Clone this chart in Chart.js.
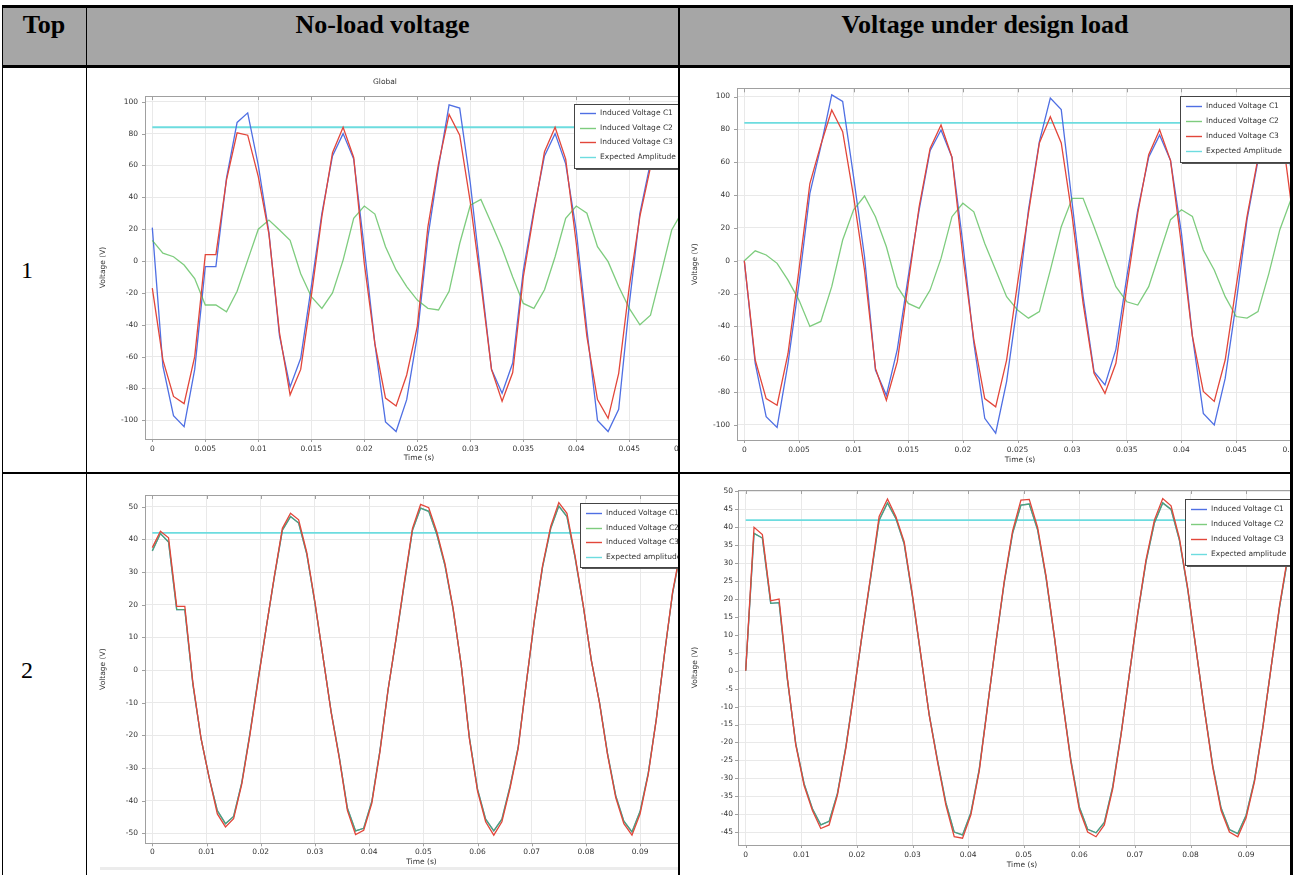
<!DOCTYPE html>
<html>
<head>
<meta charset="utf-8">
<script src="https://cdn.jsdelivr.net/npm/chart.js@4.4.0/dist/chart.umd.min.js"></script>
<style>
  html, body { margin: 0; padding: 0; background: #fff; }
  body { width: 1297px; height: 875px; position: relative; overflow: hidden; font-family: "DejaVu Sans", sans-serif; }
  .hdr { position: absolute; left: 2px; top: 7px; width: 1289px; height: 58px; background: #a6a6a6; }
  .line { position: absolute; background: #000; z-index: 5; }
  .htxt { position: absolute; top: 9px; font: bold 26px "Liberation Serif", serif; text-align: center; line-height: 32px; color: #000; }
  .rtxt { position: absolute; left: 21px; font: 24px "Liberation Serif", serif; line-height: 28px; color: #000; }
  .cell { position: absolute; overflow: hidden; background: #fff; }
  .cell canvas { position: absolute; }
  .small { position: absolute; font-size: 7.5px; line-height: 10px; color: #333; text-align: center; }
</style>
</head>
<body>
<div class="hdr"></div>
<div class="htxt" style="left:2px;width:84px;">Top</div>
<div class="htxt" style="left:86px;width:593px;">No-load voltage</div>
<div class="htxt" style="left:680px;width:610px;">Voltage under design load</div>
<div class="rtxt" style="top:256px;">1</div>
<div class="rtxt" style="top:656px;">2</div>

<div class="cell" style="left:87px;top:69px;width:591px;height:403px;">
  <canvas id="noLoad1" width="640" height="400" style="left:1px;top:1px;"></canvas>
</div>
<div class="small" style="left:335px;top:77px;width:100px;">Global</div>
<div class="cell" style="left:680px;top:69px;width:611px;height:403px;">
  <canvas id="load1" width="660" height="400" style="left:0;top:1px;"></canvas>
</div>
<div class="cell" style="left:87px;top:474px;width:591px;height:401px;">
  <canvas id="noLoad2" width="640" height="397" style="left:1px;top:4px;"></canvas>
  <div style="position:absolute;left:13px;top:393px;width:578px;height:3px;background:#ececec;"></div>
</div>
<div class="cell" style="left:680px;top:474px;width:611px;height:401px;">
  <canvas id="load2" width="656" height="397" style="left:0;top:4px;"></canvas>
</div>

<!-- table rules -->
<div class="line" style="left:2px;top:5px;width:1291px;height:3px;"></div>
<div class="line" style="left:2px;top:65px;width:1291px;height:3px;"></div>
<div class="line" style="left:2px;top:472px;width:1291px;height:2px;"></div>
<div class="line" style="left:2px;top:5px;width:1px;height:870px;"></div>
<div class="line" style="left:86px;top:5px;width:1px;height:870px;"></div>
<div class="line" style="left:678px;top:5px;width:2px;height:870px;"></div>
<div class="line" style="left:1290px;top:5px;width:3px;height:870px;"></div>

<script>
// time samples (s)
const timeTop1 = [0, 0.001, 0.002, 0.003, 0.004, 0.005, 0.006, 0.007, 0.008, 0.009,
  0.01, 0.011, 0.012, 0.013, 0.014, 0.015, 0.016, 0.017, 0.018, 0.019,
  0.02, 0.021, 0.022, 0.023, 0.024, 0.025, 0.026, 0.027, 0.028, 0.029,
  0.03, 0.031, 0.032, 0.033, 0.034, 0.035, 0.036, 0.037, 0.038, 0.039,
  0.04, 0.041, 0.042, 0.043, 0.044, 0.045, 0.046, 0.047, 0.048, 0.049, 0.05];
const timeTop2 = [0, 0.0015, 0.003, 0.0045, 0.006, 0.0075, 0.009, 0.0105, 0.012, 0.0135,
  0.015, 0.0165, 0.018, 0.0195, 0.021, 0.0225, 0.024, 0.0255, 0.027, 0.0285,
  0.03, 0.0315, 0.033, 0.0345, 0.036, 0.0375, 0.039, 0.0405, 0.042, 0.0435,
  0.045, 0.0465, 0.048, 0.0495, 0.051, 0.0525, 0.054, 0.0555, 0.057, 0.0585,
  0.06, 0.0615, 0.063, 0.0645, 0.066, 0.0675, 0.069, 0.0705, 0.072, 0.0735,
  0.075, 0.0765, 0.078, 0.0795, 0.081, 0.0825, 0.084, 0.0855, 0.087, 0.0885,
  0.09, 0.0915, 0.093, 0.0945, 0.096, 0.0975];

// Top 1, no-load (V)
const noLoad1C1 = [21, -66, -97, -104, -68, -3.5, -3.5, 52, 87, 93, 60, 18, -47, -79, -61, -16, 30, 66, 80, 64,
  8, -52, -101, -107, -87, -47, 15, 59, 98, 96, 49, -10, -68, -83, -64, -6, 32, 66, 80, 61,
  19, -43, -100, -107, -93, -27, 30, 62, 96, 92, 55];
const noLoad1C2 = [13, 5, 2.7, -2.5, -11, -27.6, -27.6, -31.8, -19, 0.6, 20, 25.7, 19.5, 13, -8, -22.4, -29.7, -20, 0.6, 26.8,
  34.5, 29.5, 9, -5.6, -16, -24.5, -29.7, -30.7, -19, 11, 35, 38.7, 23.6, 8, -10, -26.6, -29.7, -18, 2.7, 26.8,
  34.5, 30, 9, -0.4, -16, -29.7, -40, -34, -7.7, 19.5, 31];
const noLoad1C3 = [-17, -62, -85, -89.5, -60, 4, 4, 51, 80.5, 79, 53, 17, -45, -84, -68, -22, 28, 68, 84, 65,
  -1.5, -52, -86, -91, -71.5, -41, 21.5, 61, 92, 79, 37, -14, -68, -88, -70, -10, 30, 68.6, 84, 64,
  11, -47.5, -87, -98.7, -70.5, -16, 28, 59, 88, 82, 53];

// Top 1, design load (V)
const load1C1 = [0, -62.5, -95, -101.5, -62.5, -14, 41, 69.5, 101, 97, 51, 2.4, -66.6, -82, -54, -9.7, 31, 67, 79.6, 63,
  10.5, -50, -96, -105, -73.6, -26, 31, 72.5, 99, 92, 35, -21.7, -67.6, -75.7, -54, -9.7, 31, 63, 76.5, 61,
  16.6, -46, -93, -100, -71.7, -26, 25, 61, 95, 90, 57];
const load1C2 = [0, 6, 3.5, -1.6, -11.8, -24, -40, -37, -15.8, 12.6, 31, 39.4, 26.8, 8.5, -15.8, -26, -29, -17.9, 1.4, 26.8,
  35, 29.8, 10.5, -5.7, -21.9, -30, -35, -31, -5.7, 20.7, 38, 38, 20.7, 2.4, -15.8, -25, -27, -15.8, 4.5, 25,
  31, 27, 6.5, -5.7, -21.9, -34, -35, -31, -7.7, 18.9, 37];
const load1C3 = [0, -60.5, -84, -88, -56.5, -5.7, 47, 70.5, 91.8, 78.6, 39, -5.7, -65.6, -85, -61.5, -13.8, 33, 68.4, 82.6, 63,
  2.4, -48, -84, -89, -60.5, -13.8, 29, 71.7, 87.7, 71.7, 27, -26, -68.6, -80.8, -62.5, -15.8, 29, 64.6, 79.8, 61,
  9.5, -46, -79.6, -85.7, -60.5, -15.8, 27, 62.5, 92, 88, 37];

// Top 2, no-load (V)
const noLoad2C2 = [36.5, 41.8, 39.2, 18.5, 18.5, -4.5, -21, -33, -43, -47, -44.8, -34.5, -19.5, -3, 12.8, 28.3, 42.8, 47, 45, 35.5,
  20.5, 4, -12.8, -26.6, -42.3, -49.2, -48.4, -40.2, -24.6, -6, 9.8, 26.5, 42.8, 49.6, 48.6, 41.5, 32, 18.6, 1.5, -20.6,
  -36.4, -45.6, -49.2, -45.6, -35.6, -23.6, -4, 15.2, 31.5, 43.3, 50.2, 47, 34.4, 19.7, 3, -9.8, -25.6, -38.4, -46.2, -49.5,
  -43.2, -31.5, -14.8, 5, 23.6, 36.4];
const noLoad2C1 = noLoad2C2.slice(); // C1 sits right under C2 in the picture
const noLoad2C3 = [37.5, 42.5, 40.5, 19.5, 19.5, -4, -21, -33, -44, -48, -45.5, -35, -20, -3.5, 12.8, 28.6, 43.4, 48, 46, 36,
  21, 4, -13, -27, -43, -50.3, -49, -40.8, -25, -6, 10, 27, 43.4, 50.7, 49.7, 42.3, 32.6, 18.9, 1.5, -21,
  -37, -46.4, -50.5, -46.4, -36.2, -24, -4, 15.5, 32, 44, 51.3, 48, 35, 20, 3, -10, -26, -39, -47, -50.5,
  -44, -32, -15, 5, 24, 37];

// Top 2, design load (V)
const load2C2 = [0, 38.3, 37, 18.8, 19, -2.5, -20.3, -31.5, -38.5, -43, -42, -34.2, -21.3, -5.6, 10.7, 26.2, 42, 46.8, 42.5, 35.4,
  20.6, 4.2, -12.2, -25, -36.8, -45, -45.8, -39.6, -27.5, -9.8, 7.8, 24.6, 38.3, 46.2, 46.5, 39.3, 26.1, 9.6, -8.4, -25.1,
  -38, -44.2, -45.2, -42.3, -32.4, -17.7, -1, 15.7, 30.4, 41.2, 46.8, 45, 36.4, 22.6, 5.9, -10.8, -26.5, -38.3, -44.3, -45.4,
  -40.3, -30.5, -15.7, 1, 17.6, 31.4];
const load2C1 = load2C2.slice();
const load2C3 = [0, 40, 38, 19.5, 20, -2, -20.7, -32, -39, -44, -43, -34.7, -21.7, -5.9, 10.9, 26.7, 43, 47.9, 43, 36,
  21, 4.4, -12.4, -25.4, -37.5, -46.3, -46.7, -40.2, -28, -10, 8, 25, 39, 47.6, 47.8, 40, 26.6, 9.8, -8.6, -25.6,
  -38.7, -45, -46.3, -43, -33, -18, -1, 16, 31, 42, 48, 46, 37, 23, 6, -11, -27, -39, -45, -46.3,
  -41, -31, -16, 1, 18, 32];

// expected amplitude lines
const expTime1 = [0, 0.05];
const expected1 = [84, 84];
const expTime2 = [0, 0.1];
const expected2 = [42, 42];

// ticks
const xTicks1 = [0, 0.005, 0.01, 0.015, 0.02, 0.025, 0.03, 0.035, 0.04, 0.045, 0.05];
const xTicks2 = [0, 0.01, 0.02, 0.03, 0.04, 0.05, 0.06, 0.07, 0.08, 0.09, 0.1];
const yTicks100 = [-100, -80, -60, -40, -20, 0, 20, 40, 60, 80, 100];
const yTicks50 = [-50, -40, -30, -20, -10, 0, 10, 20, 30, 40, 50];
const yTicks45 = [-45, -40, -35, -30, -25, -20, -15, -10, -5, 0, 5, 10, 15, 20, 25, 30, 35, 40, 45, 50];

const labelsTop1 = ['Induced Voltage C1', 'Induced Voltage C2', 'Induced Voltage C3', 'Expected Amplitude'];
const labelsTop2 = ['Induced Voltage C1', 'Induced Voltage C2', 'Induced Voltage C3', 'Expected amplitude'];

const BLUE = '#4f6fe3', GREEN = 'rgba(76,184,76,0.72)', RED = '#e2463a', CYAN = '#6ddcdf';
const FONT = { family: 'DejaVu Sans', size: 7.5 };

function pts(times, vals) {
  return times.map((t, i) => ({ x: t, y: vals[i] }));
}

const comsolFrame = {
  id: 'comsolFrame',
  afterDatasetsDraw(chart) {
    const { ctx, chartArea: a, scales: { x, y } } = chart;
    ctx.save();
    ctx.strokeStyle = '#a0a0a0';
    ctx.lineWidth = 1;
    ctx.strokeRect(Math.round(a.left) + 0.5, Math.round(a.top) + 0.5, Math.round(a.right - a.left), Math.round(a.bottom - a.top));
    ctx.beginPath();
    x.ticks.forEach(t => {
      const px = Math.round(x.getPixelForValue(t.value)) + 0.5;
      ctx.moveTo(px, a.bottom); ctx.lineTo(px, a.bottom + 3);
      ctx.moveTo(px, a.top); ctx.lineTo(px, a.top + 4);
    });
    y.ticks.forEach(t => {
      const py = Math.round(y.getPixelForValue(t.value)) + 0.5;
      ctx.moveTo(a.left, py); ctx.lineTo(a.left - 3, py);
      ctx.moveTo(a.right, py); ctx.lineTo(a.right - 4, py);
    });
    ctx.stroke();
    ctx.restore();
  },
  afterDraw(chart, args, opts) {
    const b = opts.box;
    if (!b) return;
    const ctx = chart.ctx;
    ctx.save();
    ctx.fillStyle = '#555';
    ctx.fillRect(b.x + 2, b.y + 2, b.w, b.h);
    ctx.fillStyle = '#fff';
    ctx.fillRect(b.x, b.y, b.w, b.h);
    ctx.strokeStyle = '#444';
    ctx.lineWidth = 1;
    ctx.strokeRect(b.x + 0.5, b.y + 0.5, b.w, b.h);
    ctx.font = '7.5px "DejaVu Sans"';
    ctx.textBaseline = 'middle';
    chart.data.datasets.forEach((ds, i) => {
      const cy = Math.round(b.y + b.first + i * b.gap) + 0.5;
      ctx.strokeStyle = ds.borderColor;
      ctx.lineWidth = 1.4;
      ctx.beginPath();
      ctx.moveTo(b.x + 6, cy);
      ctx.lineTo(b.x + 22, cy);
      ctx.stroke();
      ctx.fillStyle = '#333';
      ctx.fillText(ds.label, b.x + 26, cy);
    });
    ctx.restore();
  }
};

function makeChart(id, o) {
  const mk = (label, color, data, order, width) => ({
    label, data, borderColor: color, backgroundColor: color,
    borderWidth: width, pointRadius: 0, tension: 0, order
  });
  return new Chart(document.getElementById(id), {
    type: 'line',
    data: {
      datasets: [
        mk(o.labels[0], BLUE, pts(o.time, o.c1), 3, 1.3),
        mk(o.labels[1], GREEN, pts(o.time, o.c2), 2, 1.3),
        mk(o.labels[2], RED, pts(o.time, o.c3), 1, 1.3),
        mk(o.labels[3], CYAN, pts(o.expTime, o.exp), 4, 1.8)
      ]
    },
    options: {
      responsive: false,
      animation: false,
      events: [],
      layout: { padding: { left: 0, top: o.padTop, right: o.padRight, bottom: 0 } },
      plugins: {
        legend: { display: false },
        tooltip: { enabled: false },
        comsolFrame: { box: o.legend }
      },
      scales: {
        x: {
          type: 'linear', min: o.xMin, max: o.xMax,
          afterBuildTicks: s => { s.ticks = o.xTicks.map(v => ({ value: v })); },
          afterFit: s => { s.height = o.xH; },
          grid: { color: '#e9e9e9', drawTicks: false },
          border: { display: false },
          ticks: {
            autoSkip: false, maxRotation: 0, padding: o.xTickPad, font: FONT, color: '#333',
            callback: v => String(+Number(v).toFixed(4))
          },
          title: { display: true, text: 'Time (s)', font: FONT, color: '#333', padding: { top: 0, bottom: o.xTitlePad } }
        },
        y: {
          type: 'linear', min: o.yMin, max: o.yMax,
          afterBuildTicks: s => { s.ticks = o.yTicks.map(v => ({ value: v })); },
          afterFit: s => { s.width = o.yW; },
          grid: { color: '#e9e9e9', drawTicks: false },
          border: { display: false },
          ticks: { autoSkip: false, padding: o.yTickPad, font: FONT, color: '#333' },
          title: { display: true, text: 'Voltage (V)', font: FONT, color: '#333', padding: { top: 10.5, bottom: 0 } }
        }
      }
    },
    plugins: [comsolFrame]
  });
}

makeChart('noLoad1', {
  time: timeTop1, c1: noLoad1C1, c2: noLoad1C2, c3: noLoad1C3, expTime: expTime1, exp: expected1, labels: labelsTop1,
  xMin: -0.000689, xMax: 0.05101, yMin: -111.7, yMax: 103.6, xTicks: xTicks1, yTicks: yTicks100,
  padTop: 26, padRight: 35, xH: 31, yW: 57, xTickPad: 5.5, yTickPad: 7, xTitlePad: 7,
  legend: { x: 486, y: 34, w: 106, h: 64, first: 9, gap: 14.7 }
});
makeChart('load1', {
  time: timeTop1, c1: load1C1, c2: load1C2, c3: load1C3, expTime: expTime1, exp: expected1, labels: labelsTop1,
  xMin: -0.000668, xMax: 0.05112, yMin: -109.2, yMax: 105, xTicks: xTicks1, yTicks: yTicks100,
  padTop: 18.3, padRight: 37, xH: 30, yW: 57, xTickPad: 5.5, yTickPad: 7, xTitlePad: 5.5,
  legend: { x: 500, y: 26, w: 113, h: 66, first: 9.7, gap: 15 }
});
makeChart('noLoad2', {
  time: timeTop2, c1: noLoad2C1, c2: noLoad2C2, c3: noLoad2C3, expTime: expTime2, exp: expected2, labels: labelsTop2,
  xMin: -0.001347, xMax: 0.10068, yMin: -53, yMax: 53.6, xTicks: xTicks2, yTicks: yTicks50,
  padTop: 17, padRight: 30, xH: 31.7, yW: 57, xTickPad: 4, yTickPad: 7, xTitlePad: 8.8,
  legend: { x: 492, y: 25, w: 110, h: 64, first: 10, gap: 14.7 }
});
makeChart('load2', {
  time: timeTop2, c1: load2C1, c2: load2C2, c3: load2C3, expTime: expTime2, exp: expected2, labels: labelsTop2,
  xMin: -0.001385, xMax: 0.10077, yMin: -48.6, yMax: 50.4, xTicks: xTicks2, yTicks: yTicks45,
  padTop: 12, padRight: 30, xH: 30, yW: 58, xTickPad: 5.5, yTickPad: 5, xTitlePad: 5.5,
  legend: { x: 505, y: 21, w: 112, h: 66, first: 10, gap: 15 }
});
</script>
</body>
</html>
